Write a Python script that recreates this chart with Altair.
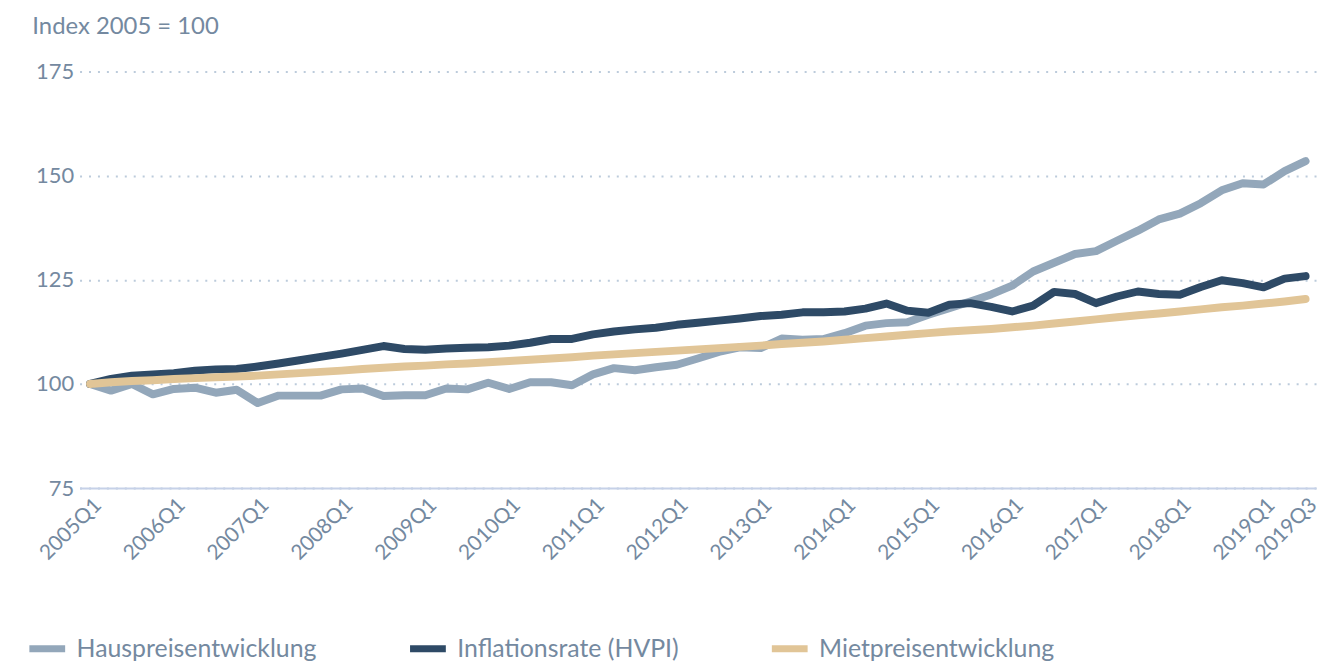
import altair as alt
import pandas as pd

years = list(range(2005, 2020))
quarters = [f"{y}Q{q}" for y in years for q in range(1, 5)][:59]
tick_labels = [f"{y}Q1" for y in years] + ["2019Q3"]

series_names = ["Hauspreisentwicklung", "Inflationsrate (HVPI)", "Mietpreisentwicklung"]
series_colors = ["#93a7ba", "#2e4a66", "#e1c597"]

haus = [100.0, 98.4, 100.0, 97.5, 98.8, 99.1, 97.9, 98.6, 95.4, 97.2,
        97.2, 97.2, 98.7, 98.9, 97.1, 97.3, 97.3, 98.9, 98.7, 100.3,
        98.8, 100.4, 100.4, 99.7, 102.3, 103.8, 103.3, 104.0, 104.6, 106.1,
        107.7, 108.8, 108.6, 110.9, 110.6, 110.8, 112.2, 114.0, 114.6, 114.8,
        116.6, 118.2, 119.8, 121.5, 123.6, 127.0, 129.1, 131.2, 131.9, 134.4,
        136.8, 139.5, 140.9, 143.4, 146.5, 148.2, 147.9, 151.1, 153.5]
inflation = [100.0, 101.2, 102.0, 102.3, 102.6, 103.2, 103.5, 103.6, 104.2, 104.9,
             105.7, 106.5, 107.3, 108.2, 109.1, 108.4, 108.2, 108.5, 108.7, 108.8,
             109.2, 109.9, 110.8, 110.8, 111.9, 112.6, 113.1, 113.5, 114.2, 114.7,
             115.2, 115.7, 116.3, 116.6, 117.2, 117.2, 117.4, 118.1, 119.3, 117.6,
             117.1, 119.0, 119.4, 118.5, 117.4, 118.8, 122.1, 121.6, 119.4, 121.0,
             122.2, 121.6, 121.4, 123.3, 124.9, 124.2, 123.2, 125.3, 125.9]
miete = [100.0, 100.4, 100.7, 100.9, 101.2, 101.4, 101.6, 101.8, 102.0, 102.3,
         102.6, 102.9, 103.2, 103.6, 103.9, 104.2, 104.4, 104.7, 104.9, 105.2,
         105.5, 105.8, 106.1, 106.4, 106.8, 107.1, 107.4, 107.7, 108.0, 108.3,
         108.6, 108.9, 109.2, 109.6, 109.9, 110.2, 110.6, 111.0, 111.4, 111.8,
         112.2, 112.6, 112.9, 113.2, 113.6, 114.0, 114.5, 115.0, 115.5, 116.0,
         116.5, 116.9, 117.4, 117.9, 118.4, 118.8, 119.3, 119.8, 120.4]

y_ticks = [75, 100, 125, 150, 175]

rows = []
for name, vals in zip(series_names, [haus, inflation, miete]):
    for q, v in zip(quarters, vals):
        rows.append({"Quartal": q, "Wert": v, "Reihe": name})
df = pd.DataFrame(rows)

FONT = "Lato"
TXT = "#7489a0"

chart = alt.Chart(df).mark_line(strokeWidth=8, strokeCap="round", strokeJoin="round").encode(
    x=alt.X("Quartal:O", sort=quarters,
            scale=alt.Scale(type="point", padding=0.5),
            axis=alt.Axis(values=tick_labels, labelAngle=-45, labelFontSize=21,
                          labelColor=TXT, labelFont=FONT, ticks=False, grid=False,
                          domainColor="#c6d1e8", domainWidth=2, labelPadding=6,
                          title=None)),
    y=alt.Y("Wert:Q", scale=alt.Scale(domain=[75, 175], nice=False, zero=False),
            axis=alt.Axis(values=y_ticks, labelFontSize=22,
                          labelColor=TXT, labelFont=FONT,
                          ticks=False, domain=False, grid=True, gridColor="#bccbdb",
                          gridDash=[2, 7], gridWidth=2, labelPadding=6,
                          title="Index 2005 = 100", titleAngle=0, titleX=-48, titleY=-45,
                          titleAlign="left", titleBaseline="middle", titleFontSize=24,
                          titleFontWeight="normal", titleColor=TXT, titleFont=FONT)),
    color=alt.Color("Reihe:N", scale=alt.Scale(domain=series_names, range=series_colors),
                    legend=alt.Legend(title=None, orient="none", legendX=-54, legendY=559,
                                      direction="horizontal", symbolType="stroke",
                                      symbolStrokeWidth=7, symbolSize=1296,
                                      labelFontSize=25,
                                      labelColor=TXT, labelFont=FONT,
                                      labelLimit=400, labelOffset=8, columnPadding=79)),
).properties(
    width=1244, height=419,
    autosize=alt.AutoSizeParams(type="none"),
    padding={"left": 72, "top": 62, "right": 4, "bottom": 174},
).configure_view(stroke=None)

chart.save("out.html", embed_options={"renderer": "svg", "actions": False})
